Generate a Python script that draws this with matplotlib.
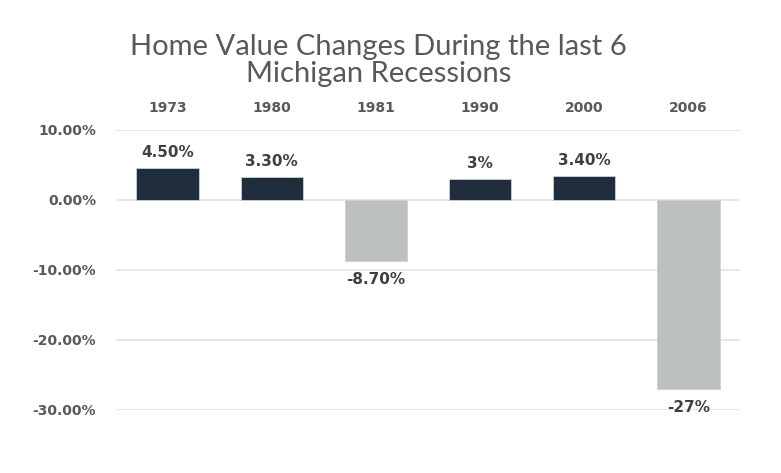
import matplotlib
matplotlib.use('Agg')
import matplotlib.pyplot as plt

# data
years = ['1973', '1980', '1981', '1990', '2000', '2006']
changes = [4.5, 3.3, -8.7, 3.0, 3.4, -27.0]
labels = ['4.50%', '3.30%', '-8.70%', '3%', '3.40%', '-27%']
yticks = [10, 0, -10, -20, -30]

plt.rcParams['font.family'] = ['DejaVu Sans']

fig = plt.figure(figsize=(7.81, 4.73), dpi=100)
ax = fig.add_axes([0.148, 0.1332, 0.8, 0.592])

dark = '#1f2d3d'
grey = '#bdc0c1'
cols = [dark if v >= 0 else grey for v in changes]
x = range(len(years))
ax.bar(x, changes, width=0.6, color=cols, edgecolor='#d0d0d0', linewidth=0.6, zorder=3)

for i, (v, t) in enumerate(zip(changes, labels)):
    if v >= 0:
        ax.annotate(t, (i, v), xytext=(0, 6), textcoords='offset points',
                    ha='center', va='bottom', fontsize=11, fontweight='bold',
                    color='#404040')
    else:
        ax.annotate(t, (i, v), xytext=(0, -8), textcoords='offset points',
                    ha='center', va='top', fontsize=11, fontweight='bold',
                    color='#404040')

ax.set_xlim(-0.5, len(years) - 0.5)
ax.set_ylim(-30, 10)
ax.set_yticks(yticks)
ax.set_yticklabels(['%.2f%%' % t for t in yticks], fontsize=10, fontweight='bold',
                   color='#595959')
ax.grid(axis='y', color='#e3e3e3', linewidth=1.2, zorder=0)
ax.tick_params(length=0, pad=14)
ax.xaxis.tick_top()
ax.set_xticks(list(x))
ax.set_xticklabels(years, fontsize=10, fontweight='bold', color='#595959')
ax.tick_params(axis='x', pad=11)
for s in ax.spines.values():
    s.set_visible(False)

fig.text(0.485, 0.873, 'Home Value Changes During the last 6\nMichigan Recessions',
         ha='center', va='center', fontsize=21, color='#595959', linespacing=1.05,
         family=['Lato', 'DejaVu Sans'])

fig.savefig('out.png', dpi=100)
